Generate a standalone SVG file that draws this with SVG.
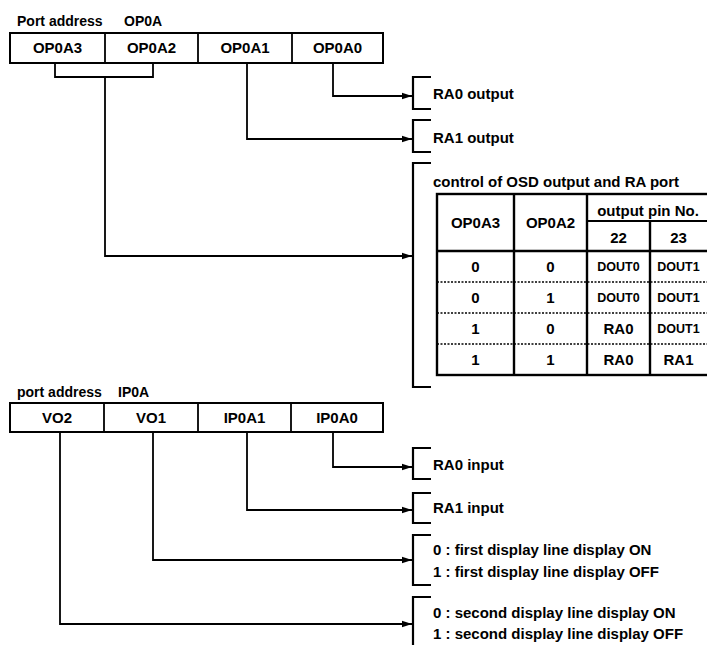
<svg xmlns="http://www.w3.org/2000/svg" width="707" height="645" viewBox="0 0 707 645">
<defs>
<marker id="arr" markerUnits="userSpaceOnUse" markerWidth="10" markerHeight="8" refX="10" refY="4" orient="auto">
<path d="M0,0.8 L10,4 L0,7.2 Z" fill="#000"/>
</marker>
<style>
text{font-family:"Liberation Sans",Arial,sans-serif;font-weight:bold;fill:#000}
.lbl{font-size:15px;text-anchor:middle}
.hd{font-size:14px}
.desc{font-size:15px}
.sm{font-size:12.5px;text-anchor:middle}
.box{fill:#fff;stroke:#000;stroke-width:2}
.ln{fill:none;stroke:#000;stroke-width:1.8}
.br{fill:none;stroke:#000;stroke-width:2.2}
.con{fill:none;stroke:#000;stroke-width:1.8;marker-end:url(#arr)}
.tb{fill:none;stroke:#000;stroke-width:2.4}
.dash{stroke:#000;stroke-width:1.3;stroke-dasharray:2 1.5}
</style>
</defs>
<rect width="707" height="645" fill="#fff"/>

<g id="op0a-register">
<text class="hd" x="17" y="26">Port address</text>
<text class="hd" x="124" y="26">OP0A</text>
<rect class="box" x="10" y="33" width="373" height="30"/>
<line class="ln" x1="105" y1="33" x2="105" y2="63"/>
<line class="ln" x1="198" y1="33" x2="198" y2="63"/>
<line class="ln" x1="292" y1="33" x2="292" y2="63"/>
<text class="lbl" x="57.5" y="53">OP0A3</text>
<text class="lbl" x="151.5" y="53">OP0A2</text>
<text class="lbl" x="245" y="53">OP0A1</text>
<text class="lbl" x="337.5" y="53">OP0A0</text>
</g>

<g id="ip0a-register">
<text class="hd" x="17" y="397">port address</text>
<text class="hd" x="118" y="397">IP0A</text>
<rect class="box" x="10" y="403" width="373" height="29"/>
<line class="ln" x1="104" y1="403" x2="104" y2="432"/>
<line class="ln" x1="198" y1="403" x2="198" y2="432"/>
<line class="ln" x1="291" y1="403" x2="291" y2="432"/>
<text class="lbl" x="57" y="423">VO2</text>
<text class="lbl" x="151" y="423">VO1</text>
<text class="lbl" x="244.5" y="423">IP0A1</text>
<text class="lbl" x="337" y="423">IP0A0</text>
</g>

<g id="connectors">
<path class="ln" d="M55,63 V77 H153 V63"/>
<path class="con" d="M105,77 V256 H412"/>
<path class="con" d="M247,63 V139 H412"/>
<path class="con" d="M333,63 V96 H412"/>
<path class="con" d="M333,432 V467 H412"/>
<path class="con" d="M247,432 V510 H412"/>
<path class="con" d="M153,432 V560 H412"/>
<path class="con" d="M60,432 V624 H412"/>
</g>

<g id="ra0-output">
<path class="br" d="M431,77 H413 V109 H431"/>
<text class="desc" x="433" y="99">RA0 output</text>
</g>
<g id="ra1-output">
<path class="br" d="M431,120 H413 V152 H431"/>
<text class="desc" x="433" y="143">RA1 output</text>
</g>

<g id="osd-control">
<path class="br" d="M431,163 H413 V387 H431"/>
<text class="desc" x="433" y="187">control of OSD output and RA port</text>
<rect class="tb" x="437" y="194" width="275" height="181"/>
<line class="tb" x1="437" y1="251" x2="707" y2="251"/>
<line class="ln" x1="587" y1="221" x2="707" y2="221"/>
<line class="tb" x1="514" y1="194" x2="514" y2="375"/>
<line class="tb" x1="587" y1="194" x2="587" y2="375"/>
<line class="tb" x1="650" y1="221" x2="650" y2="375"/>
<line class="dash" x1="437" y1="282" x2="707" y2="282"/>
<line class="dash" x1="437" y1="313" x2="707" y2="313"/>
<line class="dash" x1="437" y1="344" x2="707" y2="344"/>
<text class="lbl" x="475.5" y="228">OP0A3</text>
<text class="lbl" x="550.5" y="228">OP0A2</text>
<text class="lbl" x="648" y="216">output pin No.</text>
<text class="lbl" x="618.5" y="243">22</text>
<text class="lbl" x="678.5" y="243">23</text>
<text class="lbl" x="475.5" y="272">0</text>
<text class="lbl" x="550.5" y="272">0</text>
<text class="sm" x="618.5" y="271">DOUT0</text>
<text class="sm" x="678.5" y="271">DOUT1</text>
<text class="lbl" x="475.5" y="303">0</text>
<text class="lbl" x="550.5" y="303">1</text>
<text class="sm" x="618.5" y="302">DOUT0</text>
<text class="sm" x="678.5" y="302">DOUT1</text>
<text class="lbl" x="475.5" y="334">1</text>
<text class="lbl" x="550.5" y="334">0</text>
<text class="lbl" x="618.5" y="334">RA0</text>
<text class="sm" x="678.5" y="333">DOUT1</text>
<text class="lbl" x="475.5" y="365">1</text>
<text class="lbl" x="550.5" y="365">1</text>
<text class="lbl" x="618.5" y="365">RA0</text>
<text class="lbl" x="678.5" y="365">RA1</text>
</g>

<g id="ra0-input">
<path class="br" d="M431,448 H413 V479 H431"/>
<text class="desc" x="433" y="470">RA0 input</text>
</g>
<g id="ra1-input">
<path class="br" d="M431,493 H413 V523 H431"/>
<text class="desc" x="433" y="513">RA1 input</text>
</g>
<g id="first-display-line">
<path class="br" d="M431,535 H413 V585 H431"/>
<text class="desc" x="433" y="555">0 : first display line display ON</text>
<text class="desc" x="433" y="577">1 : first display line display OFF</text>
</g>
<g id="second-display-line">
<path class="br" d="M431,597 H413 V650"/>
<text class="desc" x="433" y="618">0 : second display line display ON</text>
<text class="desc" x="433" y="639">1 : second display line display OFF</text>
</g>
</svg>
